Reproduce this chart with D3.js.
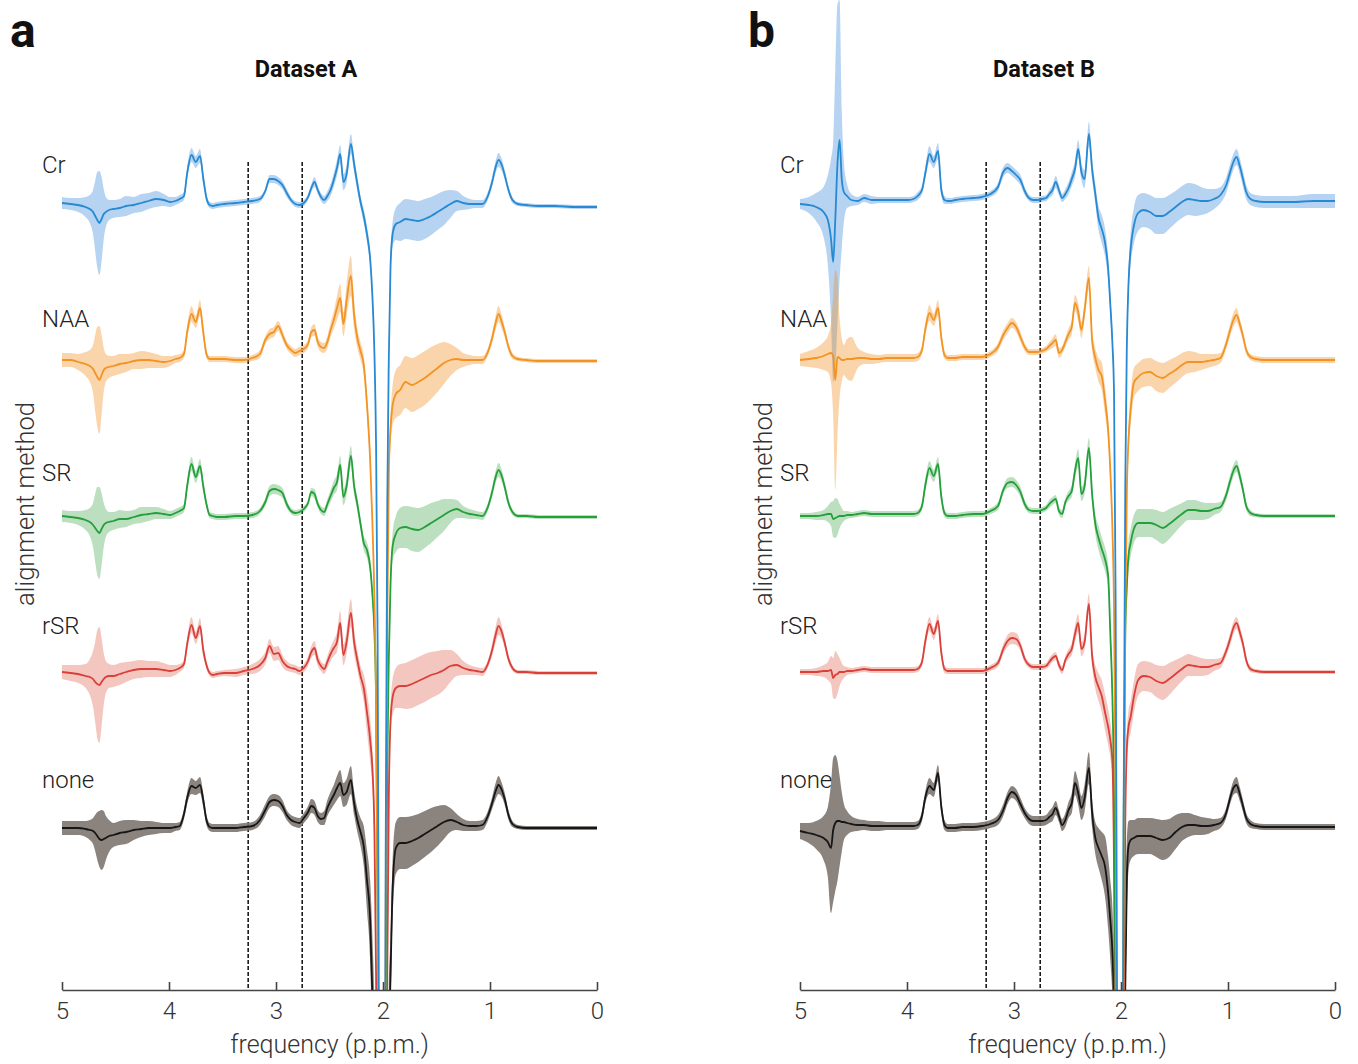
<!DOCTYPE html>
<html>
<head>
<meta charset="utf-8">
<script src="https://cdnjs.cloudflare.com/ajax/libs/d3/7.8.5/d3.min.js"></script>
<style>
	body { margin: 0; background: #fff; }
	svg text { font-family: Roboto, "Noto Sans", "DejaVu Sans", sans-serif; }
</style>
</head>
<body>
<svg id="chart" width="1358" height="1064"></svg>
<script>
// frequency grid (p.p.m.), shared by every spectrum
var ppm = [
	5.00, 4.92, 4.85, 4.78, 4.74, 4.71, 4.69, 4.67, 4.65, 4.63, 4.61, 4.59, 4.56, 4.52,
	4.46, 4.40, 4.33, 4.26, 4.19, 4.12, 4.05, 3.99, 3.94, 3.90,
	3.86, 3.83, 3.79, 3.75, 3.71, 3.68, 3.65, 3.62, 3.59, 3.55,
	3.48, 3.38, 3.30, 3.22, 3.15, 3.10, 3.06, 3.02, 2.98, 2.94, 2.90, 2.86, 2.82, 2.78,
	2.74, 2.70, 2.67, 2.64, 2.61, 2.58, 2.55, 2.52, 2.49, 2.46, 2.43, 2.40, 2.37, 2.34, 2.30, 2.27, 2.24, 2.21, 2.18,
	2.15, 2.12, 2.10, 2.08, 2.065, 2.05, 2.03, 2.01, 1.99, 1.975, 1.96, 1.945, 1.93, 1.91, 1.88,
	1.84, 1.79, 1.73, 1.67, 1.61, 1.55, 1.49, 1.43, 1.37, 1.31, 1.25, 1.19, 1.13, 1.07,
	1.02, 0.98, 0.95, 0.92, 0.89, 0.86, 0.83, 0.79, 0.74, 0.66, 0.55, 0.40, 0.20, 0.00
];

var methods = ['Cr', 'NAA', 'SR', 'rSR', 'none'];
var datasetTitles = ['Dataset A', 'Dataset B'];
var panelLetters = ['a', 'b'];
var tickValues = [5, 4, 3, 2, 1, 0];
var markerPpm = [3.26, 2.755];

// ---- Dataset A : mean spectra and band half-widths (a.u.) ----
var meanA_Cr = [
	1, 0, -1, -3, -5, -8, -12, -16, -19, -15, -10, -8, -6, -5,
	-4, -2, -1, 1, 3, 5, 4, 2, 3, 5,
	8, 31, 49, 42, 48, 26, 6, -1, -2, -1,
	0, 1, 2, 3, 5, 13, 25, 25, 23, 19, 11, 4, 0, -1,
	1, 7, 16, 22, 14, 7, 4, 8, 14, 24, 36, 50, 22, 30, 60, 40, 20, 2, -12,
	-30, -55, -90, -150, -240, -440, -1100, -1800, -1300, -650, -300, -150, -64, -30, -20,
	-18, -15, -16, -17, -15, -12, -8, -4, 0, 3, 1, 0, 0, 0,
	8, 22, 36, 44, 39, 28, 15, 4, 0, -1, -2, -2, -3, -3
];
var sdA_Cr = [
	6, 6, 7, 10, 14, 22, 35, 48, 52, 42, 25, 15, 10, 9,
	9, 10, 8, 9, 8, 8, 6, 5, 4, 4,
	4, 6, 7, 6, 7, 6, 4, 3, 3, 3,
	3, 3, 3, 3, 3, 3, 4, 4, 4, 4, 4, 3, 3, 3,
	3, 3, 4, 5, 4, 4, 4, 5, 6, 7, 8, 9, 8, 9, 10, 8, 7, 6, 7,
	8, 8, 8, 8, 10, 12, 14, 14, 14, 12, 10, 8, 8, 12, 16,
	19, 20, 20, 20, 20, 19, 18, 17, 14, 10, 7, 5, 4, 4,
	4, 5, 6, 7, 6, 5, 4, 3, 2, 2, 2, 2, 2, 2
];
var meanA_NAA = [
	0, 0, -2, -4, -6, -9, -13, -17, -20, -15, -10, -8, -7, -6,
	-4, -3, -1, 0, 0, -1, -2, -1, 1, 2,
	6, 28, 46, 38, 52, 28, 6, 1, 1, 1,
	1, 0, 0, 2, 6, 20, 26, 28, 34, 25, 15, 10, 7, 9,
	11, 16, 28, 30, 18, 13, 12, 18, 30, 40, 52, 62, 36, 60, 84, 45, 22, 9, -5,
	-44, -100, -160, -240, -340, -560, -1100, -1800, -1100, -550, -260, -110, -70, -45, -34,
	-30, -22, -25, -22, -18, -13, -8, -3, 0, 1, 0, 0, 0, 0,
	8, 22, 36, 46, 38, 27, 14, 4, 1, 0, -1, -1, -1, -1
];
var sdA_NAA = [
	7, 7, 8, 12, 16, 24, 38, 50, 54, 40, 22, 14, 11, 10,
	10, 9, 8, 9, 8, 7, 6, 5, 4, 4,
	4, 6, 8, 6, 8, 6, 4, 3, 3, 3,
	3, 3, 3, 3, 4, 4, 5, 5, 5, 5, 4, 4, 4, 4,
	4, 4, 5, 6, 5, 5, 5, 6, 7, 9, 12, 14, 12, 16, 20, 14, 10, 9, 10,
	12, 10, 10, 10, 12, 14, 14, 14, 14, 12, 10, 12, 16, 20, 24,
	25, 26, 27, 27, 27, 26, 24, 21, 16, 11, 7, 5, 4, 4,
	4, 5, 7, 8, 7, 5, 4, 3, 2, 2, 2, 2, 2, 2
];
var meanA_SR = [
	0, -1, -2, -4, -6, -9, -12, -15, -17, -13, -9, -7, -6, -5,
	-3, -3, -1, 1, 2, 3, 2, 1, 3, 5,
	8, 30, 52, 39, 50, 30, 12, 1, 0, -1,
	-1, 0, 0, 1, 5, 14, 25, 27, 26, 23, 12, 5, 3, 4,
	7, 13, 24, 22, 12, 6, 4, 12, 20, 28, 34, 51, 19, 30, 60, 30, 12, -8, -27,
	-34, -51, -77, -117, -180, -400, -1000, -1800, -1100, -500, -250, -140, -70, -30, -18,
	-12, -11, -13, -14, -11, -7, -3, 1, 5, 7, 4, 2, 1, 0,
	9, 24, 38, 46, 40, 28, 14, 4, 0, 0, -1, -1, -1, -1
];
var sdA_SR = [
	6, 6, 7, 10, 14, 22, 34, 44, 46, 36, 22, 14, 10, 9,
	9, 8, 7, 8, 7, 6, 5, 4, 4, 4,
	4, 6, 7, 6, 7, 6, 4, 3, 3, 3,
	3, 3, 3, 3, 3, 4, 5, 5, 5, 5, 4, 3, 3, 3,
	3, 3, 4, 5, 4, 4, 4, 5, 6, 7, 8, 9, 8, 9, 10, 8, 7, 6, 7,
	8, 8, 8, 8, 10, 12, 14, 14, 14, 12, 10, 8, 10, 14, 18,
	20, 21, 22, 22, 21, 20, 18, 16, 12, 9, 6, 5, 4, 4,
	4, 5, 6, 7, 6, 5, 4, 3, 2, 2, 2, 2, 2, 2
];
var meanA_rSR = [
	0, -1, -2, -4, -5, -7, -10, -12, -13, -10, -7, -5, -4, -4,
	-2, 0, 2, 3, 3, 3, 2, 1, 2, 4,
	8, 28, 47, 34, 46, 22, 7, -1, -3, -2,
	-1, -1, 1, 3, 7, 14, 26, 18, 19, 11, 6, 4, 3, 1,
	4, 11, 20, 24, 12, 6, 3, 10, 18, 24, 30, 49, 17, 30, 59, 30, 12, -4, -16,
	-40, -68, -95, -160, -300, -550, -1000, -1600, -1200, -700, -300, -120, -50, -25, -16,
	-14, -14, -12, -9, -6, -3, -1, 2, 6, 7, 4, 2, 1, 0,
	8, 22, 36, 46, 40, 28, 14, 4, 0, 0, -1, -1, -1, -1
];
var sdA_rSR = [
	7, 8, 9, 12, 18, 28, 40, 54, 58, 44, 26, 16, 12, 11,
	11, 10, 9, 9, 8, 8, 7, 6, 5, 4,
	4, 6, 8, 6, 8, 6, 4, 3, 3, 3,
	3, 4, 4, 5, 6, 6, 7, 7, 7, 6, 5, 4, 4, 4,
	4, 5, 6, 7, 6, 5, 5, 6, 7, 8, 10, 12, 10, 12, 14, 12, 10, 10, 14,
	20, 22, 20, 16, 14, 14, 14, 14, 14, 12, 10, 12, 14, 18, 20,
	22, 23, 24, 24, 24, 23, 22, 20, 16, 11, 7, 5, 4, 4,
	4, 6, 8, 9, 7, 5, 4, 3, 2, 2, 2, 2, 2, 2
];
var meanA_none = [
	0, 0, 0, -1, -2, -3, -5, -8, -11, -12, -11, -10, -8, -7,
	-5, -4, -2, -1, 0, 0, 0, 0, 1, 2,
	14, 30, 42, 40, 43, 28, 8, 1, 0, 0,
	0, 0, 1, 2, 8, 18, 26, 28, 27, 22, 13, 8, 6, 5,
	10, 16, 22, 20, 12, 9, 10, 20, 27, 33, 40, 45, 33, 36, 48, 25, 8, -4, -18,
	-52, -92, -165, -260, -380, -600, -1100, -1700, -1200, -700, -380, -220, -150, -60, -20,
	-15, -15, -13, -10, -6, -2, 2, 6, 8, 6, 3, 2, 2, 3,
	12, 25, 36, 43, 38, 28, 14, 4, 1, 0, 0, 0, 0, 0
];
var sdA_none = [
	7, 7, 7, 8, 10, 13, 18, 24, 28, 30, 28, 22, 16, 12,
	12, 12, 10, 8, 7, 6, 5, 5, 4, 4,
	5, 6, 8, 7, 8, 7, 5, 4, 4, 4,
	4, 4, 4, 4, 5, 6, 6, 6, 6, 6, 5, 5, 5, 5,
	5, 6, 7, 7, 6, 6, 7, 8, 9, 10, 12, 13, 12, 13, 14, 12, 12, 14, 20,
	30, 40, 60, 80, 80, 60, 40, 40, 40, 60, 70, 60, 40, 30, 26,
	26, 26, 25, 24, 23, 22, 20, 17, 12, 8, 6, 5, 5, 5,
	5, 6, 8, 9, 7, 6, 5, 3, 2, 2, 2, 2, 2, 2
];

// ---- Dataset B ----
var meanB_Cr = [
	0, -1, -3, -8, -16, -35, -58, -15, 40, 64, 25, 12, 8, 4,
	3, 6, 4, 4, 4, 4, 4, 4, 5, 8,
	14, 30, 50, 42, 53, 15, 4, 3, 3, 4,
	5, 6, 7, 10, 17, 32, 36, 33, 29, 24, 13, 6, 4, 4,
	5, 6, 10, 14, 22, 14, 6, 10, 16, 25, 35, 55, 32, 25, 70, 35, 10, -14, -25,
	-38, -65, -100, -140, -190, -400, -1000, -1800, -1200, -600, -280, -140, -80, -45, -22,
	-9, -6, -8, -12, -12, -8, -3, 2, 5, 4, 3, 3, 5, 9,
	18, 32, 42, 47, 38, 25, 12, 5, 3, 2, 2, 2, 3, 3
];
var sdB_Cr = [
	5, 8, 14, 25, 45, 80, 120, 150, 160, 140, 70, 30, 12, 6,
	4, 4, 4, 3, 3, 3, 3, 3, 3, 4,
	4, 6, 8, 6, 8, 6, 4, 3, 3, 3,
	3, 3, 3, 3, 4, 5, 5, 5, 5, 5, 4, 3, 3, 3,
	3, 3, 4, 5, 6, 5, 4, 5, 6, 7, 8, 9, 8, 9, 12, 10, 10, 12, 14,
	14, 12, 10, 10, 10, 12, 14, 14, 14, 12, 10, 12, 14, 16, 18,
	18, 17, 17, 18, 18, 17, 16, 16, 16, 16, 14, 12, 10, 8,
	8, 8, 8, 8, 8, 8, 7, 6, 6, 6, 6, 6, 7, 7
];
var meanB_NAA = [
	0, 1, 2, 4, 6, 7, 4, -20, 3, 2, 0, 0, 1, 1,
	2, 2, 1, 1, 2, 2, 2, 2, 2, 3,
	10, 30, 47, 40, 52, 23, 5, 2, 2, 2,
	3, 3, 3, 6, 13, 25, 32, 37, 33, 23, 13, 8, 8, 8,
	9, 11, 14, 17, 20, 7, 10, 18, 26, 33, 57, 48, 30, 50, 82, 20, 2, -10, -16,
	-40, -70, -110, -170, -250, -450, -1000, -1800, -1100, -550, -260, -130, -80, -50, -23,
	-17, -13, -12, -16, -18, -14, -10, -5, -2, -2, -2, -1, 0, 2,
	15, 30, 40, 45, 36, 24, 10, 3, 1, 0, 0, 0, 0, 0
];
var sdB_NAA = [
	6, 8, 10, 14, 18, 30, 60, 110, 80, 40, 22, 15, 20, 22,
	10, 6, 5, 4, 4, 4, 4, 4, 4, 4,
	4, 6, 8, 6, 8, 6, 4, 3, 3, 3,
	3, 3, 3, 3, 4, 5, 5, 5, 5, 5, 4, 3, 3, 3,
	3, 3, 4, 5, 6, 5, 4, 5, 6, 7, 8, 9, 8, 9, 12, 10, 10, 12, 14,
	14, 12, 10, 10, 10, 12, 14, 14, 14, 12, 10, 12, 14, 16, 15,
	14, 14, 14, 15, 15, 14, 13, 12, 11, 10, 8, 7, 6, 5,
	5, 6, 7, 7, 6, 5, 4, 3, 3, 3, 3, 3, 3, 3
];
var meanB_SR = [
	0, 0, 0, 1, 2, 2, -3, -2, -1, 0, 0, 0, 1, 1,
	2, 3, 2, 2, 2, 2, 2, 2, 2, 3,
	10, 30, 48, 40, 52, 20, 3, 0, 0, 0,
	1, 2, 2, 5, 10, 26, 33, 34, 31, 24, 12, 6, 5, 5,
	6, 8, 12, 15, 17, 5, 2, 14, 20, 25, 45, 58, 22, 30, 68, 22, -8, -22, -33,
	-43, -60, -117, -183, -280, -500, -1100, -1800, -900, -300, -117, -70, -40, -27, -13,
	-7, -7, -7, -9, -12, -8, -3, 2, 6, 6, 5, 5, 7, 9,
	20, 35, 45, 50, 40, 26, 10, 3, 1, 0, 0, 0, 0, 0
];
var sdB_SR = [
	3, 3, 4, 5, 8, 12, 18, 20, 18, 12, 8, 5, 4, 3,
	3, 3, 3, 3, 3, 3, 3, 3, 3, 3,
	4, 6, 7, 6, 7, 6, 4, 3, 3, 3,
	3, 3, 3, 3, 4, 4, 5, 5, 5, 5, 4, 3, 3, 3,
	3, 3, 4, 4, 4, 4, 4, 4, 5, 6, 8, 9, 7, 8, 10, 8, 10, 12, 12,
	12, 12, 10, 10, 10, 12, 14, 14, 14, 12, 12, 14, 14, 14, 14,
	14, 14, 14, 15, 16, 15, 13, 11, 10, 10, 9, 8, 6, 5,
	5, 6, 6, 6, 6, 5, 4, 3, 2, 2, 2, 2, 2, 2
];
var meanB_rSR = [
	0, 0, 0, 1, 1, 2, -6, -3, -2, 0, 0, 0, 1, 1,
	2, 3, 2, 2, 2, 2, 2, 2, 2, 3,
	10, 30, 48, 38, 51, 20, 3, 1, 1, 1,
	1, 1, 1, 4, 9, 23, 31, 34, 33, 26, 13, 7, 5, 5,
	5, 6, 10, 14, 16, 7, 2, 12, 18, 23, 38, 49, 23, 30, 68, 16, -5, -15, -24,
	-40, -55, -68, -90, -200, -450, -1000, -1800, -1000, -400, -150, -75, -55, -45, -25,
	-8, -4, -5, -9, -11, -7, -2, 3, 7, 6, 5, 5, 7, 9,
	20, 33, 44, 49, 40, 28, 12, 3, 1, 0, 0, 0, 0, 0
];
var sdB_rSR = [
	3, 3, 4, 6, 9, 14, 20, 24, 20, 14, 9, 6, 4, 3,
	3, 3, 3, 3, 3, 3, 3, 3, 3, 3,
	4, 6, 7, 6, 7, 6, 4, 3, 3, 3,
	3, 3, 3, 3, 4, 5, 6, 6, 6, 5, 4, 3, 3, 3,
	3, 3, 4, 4, 4, 4, 4, 4, 5, 6, 8, 9, 7, 8, 10, 10, 12, 14, 16,
	18, 18, 18, 18, 14, 14, 14, 14, 14, 14, 14, 16, 16, 16, 16,
	16, 15, 15, 16, 17, 16, 14, 12, 11, 10, 9, 8, 6, 5,
	5, 6, 6, 6, 6, 5, 4, 3, 2, 2, 2, 2, 2, 2
];
var meanB_none = [
	-3, -5, -7, -10, -14, -20, -2, 5, 7, 7, 6, 6, 5, 4,
	3, 3, 2, 2, 2, 2, 2, 2, 2, 3,
	12, 30, 42, 38, 55, 22, 3, 0, 0, 0,
	1, 1, 2, 4, 8, 18, 30, 36, 33, 24, 15, 9, 7, 7,
	7, 8, 11, 14, 20, 12, 3, 8, 18, 25, 45, 35, 20, 30, 60, 15, -10, -20, -28,
	-38, -65, -92, -125, -180, -300, -700, -1400, -900, -400, -160, -50, -18, -12, -10,
	-8, -8, -8, -10, -12, -10, -4, 1, 3, 3, 2, 2, 3, 5,
	14, 30, 40, 43, 34, 22, 10, 4, 2, 1, 1, 1, 1, 1
];
var sdB_none = [
	8, 10, 14, 22, 35, 65, 72, 68, 60, 45, 30, 18, 12, 8,
	6, 5, 5, 5, 4, 4, 4, 4, 4, 4,
	5, 6, 8, 7, 8, 7, 5, 4, 4, 4,
	4, 4, 4, 4, 5, 6, 6, 6, 6, 6, 5, 5, 5, 5,
	5, 5, 6, 7, 7, 6, 6, 7, 8, 10, 12, 12, 12, 14, 16, 14, 16, 20, 24,
	30, 36, 40, 45, 50, 50, 40, 40, 40, 50, 50, 40, 25, 20, 18,
	18, 18, 18, 19, 20, 19, 17, 14, 12, 10, 9, 8, 6, 5,
	5, 6, 7, 8, 7, 6, 5, 4, 3, 3, 3, 3, 3, 3
];

var lineColors = { Cr: '#2689d3', NAA: '#f39322', SR: '#23a03a', rSR: '#da3f3a', none: '#161616' };
var bandColors = { Cr: '#2a7fd6', NAA: '#f28a1a', SR: '#2e9c3a', rSR: '#dc5a45', none: '#7e7570' };
var bandOpacity = { Cr: 0.34, NAA: 0.36, SR: 0.32, rSR: 0.34, none: 0.9 };

var panels = [
	{ left: 62, mean: [meanA_Cr, meanA_NAA, meanA_SR, meanA_rSR, meanA_none], sd: [sdA_Cr, sdA_NAA, sdA_SR, sdA_rSR, sdA_none] },
	{ left: 800, mean: [meanB_Cr, meanB_NAA, meanB_SR, meanB_rSR, meanB_none], sd: [sdB_Cr, sdB_NAA, sdB_SR, sdB_rSR, sdB_none] }
];

var svg = d3.select('#chart'),
	plotW = 535,
	axisY = 990,
	step = 156;

var y = d3.scaleLinear().domain([-162, 828]).range([axisY, 0]);

panels.forEach(function (p, pi) {
	var g = svg.append('g'),
		x = d3.scaleLinear().domain([5, 0]).range([p.left, p.left + plotW]),
		clipId = 'clip' + pi;

	svg.append('clipPath').attr('id', clipId)
		.append('rect')
		.attr('x', p.left - 10).attr('y', 0)
		.attr('width', plotW + 20).attr('height', axisY);

	var plot = g.append('g').attr('clip-path', 'url(#' + clipId + ')');

	// dashed markers
	plot.selectAll('line.marker')
		.data(markerPpm)
		.enter().append('line')
		.attr('class', 'marker')
		.attr('x1', function (d) { return x(d); })
		.attr('x2', function (d) { return x(d); })
		.attr('y1', 162).attr('y2', axisY)
		.attr('stroke', '#1a1a1a')
		.attr('stroke-width', 1.6)
		.attr('stroke-dasharray', '4,2');

	// bands first, then lines on top
	methods.forEach(function (m, i) {
		var off = (4 - i) * step,
			mean = p.mean[i],
			sd = p.sd[i];
		var area = d3.area()
			.x(function (d, k) { return x(ppm[k]); })
			.y0(function (d, k) { return y(off + mean[k] - sd[k]); })
			.y1(function (d, k) { return y(off + mean[k] + sd[k]); })
			.curve(d3.curveMonotoneX);
		plot.append('path')
			.datum(ppm)
			.attr('d', area)
			.attr('fill', bandColors[m])
			.attr('fill-opacity', bandOpacity[m]);
	});

	methods.slice().reverse().forEach(function (m) {
		var i = methods.indexOf(m),
			off = (4 - i) * step,
			mean = p.mean[i];
		var line = d3.line()
			.x(function (d, k) { return x(ppm[k]); })
			.y(function (d, k) { return y(off + mean[k]); })
			.curve(d3.curveMonotoneX);
		plot.append('path')
			.datum(ppm)
			.attr('d', line)
			.attr('fill', 'none')
			.attr('stroke', lineColors[m])
			.attr('stroke-width', 1.8);
	});

	// method labels
	g.selectAll('text.method')
		.data(methods)
		.enter().append('text')
		.attr('class', 'method')
		.attr('x', p.left - 20)
		.attr('y', function (d, i) { return y((4 - i) * step) - 31 - i * 2.2; })
		.style('font-size', '24px')
		.style('font-weight', 300)
		.attr('fill', '#222')
		.text(function (d) { return d; });

	// x axis with upward ticks
	var axis = g.append('g')
		.attr('transform', 'translate(0,' + axisY + ')')
		.call(d3.axisBottom(x).tickValues(tickValues).tickFormat(d3.format('d'))
			.tickSizeInner(-8).tickSizeOuter(0).tickPadding(12));
	axis.select('.domain').attr('stroke', '#444').attr('stroke-width', 1.6);
	axis.selectAll('.tick line').attr('stroke', '#444').attr('stroke-width', 1.6);
	axis.selectAll('.tick text')
		.attr('fill', '#333')
		.style('font-size', '24px')
		.style('font-weight', 300)
		.style('font-family', 'Roboto, sans-serif');

	g.append('text')
		.attr('x', p.left + plotW / 2)
		.attr('y', 1053)
		.attr('text-anchor', 'middle')
		.style('font-size', '25px')
		.style('font-weight', 300)
		.attr('fill', '#333')
		.text('frequency (p.p.m.)');

	g.append('text')
		.attr('transform', 'translate(' + (p.left - 37) + ',504) rotate(-90)')
		.attr('text-anchor', 'middle')
		.attr('dy', '0.35em')
		.style('font-size', '25.5px')
		.style('font-weight', 300)
		.attr('fill', '#333')
		.text('alignment method');

	g.append('text')
		.attr('x', p.left + 244)
		.attr('y', 77)
		.attr('text-anchor', 'middle')
		.style('font-size', '23.5px')
		.style('font-weight', 700)
		.attr('fill', '#111')
		.text(datasetTitles[pi]);

	g.append('text')
		.attr('x', p.left - 52)
		.attr('y', 47)
		.style('font-size', '48px')
		.style('font-weight', 700)
		.attr('fill', '#111')
		.text(panelLetters[pi]);
});
</script>
</body>
</html>
